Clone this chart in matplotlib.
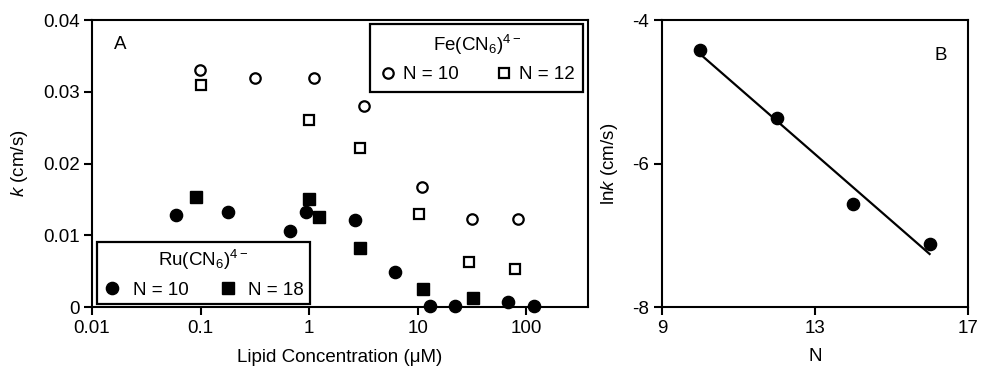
import matplotlib
matplotlib.use("Agg")
import matplotlib.pyplot as plt
import numpy as np

plt.rcParams['font.family'] = ['Liberation Sans', 'DejaVu Sans']
plt.rcParams['mathtext.fontset'] = 'custom'
plt.rcParams['mathtext.rm'] = 'Liberation Sans'
plt.rcParams['mathtext.it'] = 'Liberation Sans:italic'
plt.rcParams['font.size'] = 13.5

# Panel A: Fe(CN6)4-, N = 10 (open circles)
fe10_conc = [0.098, 0.32, 1.11, 3.2, 10.9, 31.6, 84]
fe10_k = [0.0330, 0.0319, 0.0319, 0.0280, 0.0167, 0.0122, 0.0122]
# Fe(CN6)4-, N = 12 (open squares)
fe12_conc = [0.1, 1.0, 2.95, 10.2, 29.4, 78]
fe12_k = [0.0309, 0.0260, 0.0221, 0.0130, 0.0063, 0.0053]
# Ru(CN6)4-, N = 10 (filled circles)
ru10_conc = [0.059, 0.178, 0.67, 0.93, 2.65, 6.2, 13, 22, 68, 119]
ru10_k = [0.0128, 0.0133, 0.0106, 0.0133, 0.0121, 0.0049, 0.0002, 0.0002, 0.0007, 0.0002]
# Ru(CN6)4-, N = 18 (filled squares)
ru18_conc = [0.091, 1.0, 1.24, 2.95, 11.2, 32]
ru18_k = [0.0153, 0.0151, 0.0126, 0.0082, 0.0025, 0.0012]

# Panel B: ln k vs chain length N
chain_n = [10, 12, 14, 16]
ln_k = [-4.42, -5.37, -6.56, -7.12]

fig = plt.figure(figsize=(9.82, 3.66), dpi=100)

# --- Panel A ---
ax = fig.add_axes([0.0937, 0.1612, 0.505, 0.784])
ax.set_xscale('log')
p1, = ax.plot(fe10_conc, fe10_k, 'o', mfc='white', mec='black', mew=1.6, ms=7.5, ls='none')
p2, = ax.plot(fe12_conc, fe12_k, 's', mfc='white', mec='black', mew=1.6, ms=6.8, ls='none')
p3, = ax.plot(ru10_conc, ru10_k, 'o', color='black', ms=8.8, ls='none', clip_on=False)
p4, = ax.plot(ru18_conc, ru18_k, 's', color='black', ms=8.2, ls='none', clip_on=False)
ax.set_xlim(0.01, 370)
ax.set_ylim(0, 0.04)
ax.set_xticks([0.01, 0.1, 1, 10, 100])
ax.set_xticklabels(['0.01', '0.1', '1', '10', '100'])
ax.minorticks_off()
ax.set_yticks([0, 0.01, 0.02, 0.03, 0.04])
ax.set_yticklabels(['0', '0.01', '0.02', '0.03', '0.04'])
ax.set_xlabel('Lipid Concentration (\u03bcM)', labelpad=9)
ax.set_ylabel('$k$ (cm/s)', labelpad=9)
ax.text(0.045, 0.9, 'A', transform=ax.transAxes)

leg1 = ax.legend([p1, p2], ['N = 10', 'N = 12'], title='Fe(CN$_6$)$^{4-}$', ncol=2,
                 loc='upper right', bbox_to_anchor=(0.99, 0.985), fancybox=False,
                 edgecolor='black', framealpha=1, borderpad=0.45, handletextpad=0.3,
                 columnspacing=1.9, handlelength=1.0, borderaxespad=0,
                 fontsize=13.5, title_fontsize=13.5)
leg1.get_frame().set_linewidth(1.6)
ax.add_artist(leg1)
leg2 = ax.legend([p3, p4], ['N = 10', 'N = 18'], title='Ru(CN$_6$)$^{4-}$', ncol=2,
                 loc='lower left', bbox_to_anchor=(0.01, 0.01), fancybox=False,
                 edgecolor='black', framealpha=1, borderpad=0.3, handletextpad=0.6,
                 columnspacing=1.6, handlelength=1.0, borderaxespad=0,
                 fontsize=13.5, title_fontsize=13.5)
leg2.get_frame().set_linewidth(1.6)

# --- Panel B ---
bx = fig.add_axes([0.674, 0.1612, 0.3116, 0.784])
bx.plot(chain_n, ln_k, 'o', color='black', ms=8.8)
slope, icpt = np.polyfit(chain_n, ln_k, 1)
fit_x = np.array([chain_n[0], chain_n[-1]])
bx.plot(fit_x, slope * fit_x + icpt, color='black', lw=1.6)
bx.set_xlim(9, 17)
bx.set_ylim(-8, -4)
bx.set_xticks([9, 13, 17])
bx.set_yticks([-4, -6, -8])
bx.set_yticklabels(['-4', '-6', '-8'])
bx.set_xlabel('N', labelpad=8)
bx.set_ylabel('ln$k$ (cm/s)', labelpad=9)
bx.text(0.89, 0.86, 'B', transform=bx.transAxes)

for a in (ax, bx):
    for s in a.spines.values():
        s.set_linewidth(1.5)
    a.tick_params(direction='out', length=6, width=1.5, labelsize=13.5, pad=3)

fig.savefig('out.png', dpi=100)
